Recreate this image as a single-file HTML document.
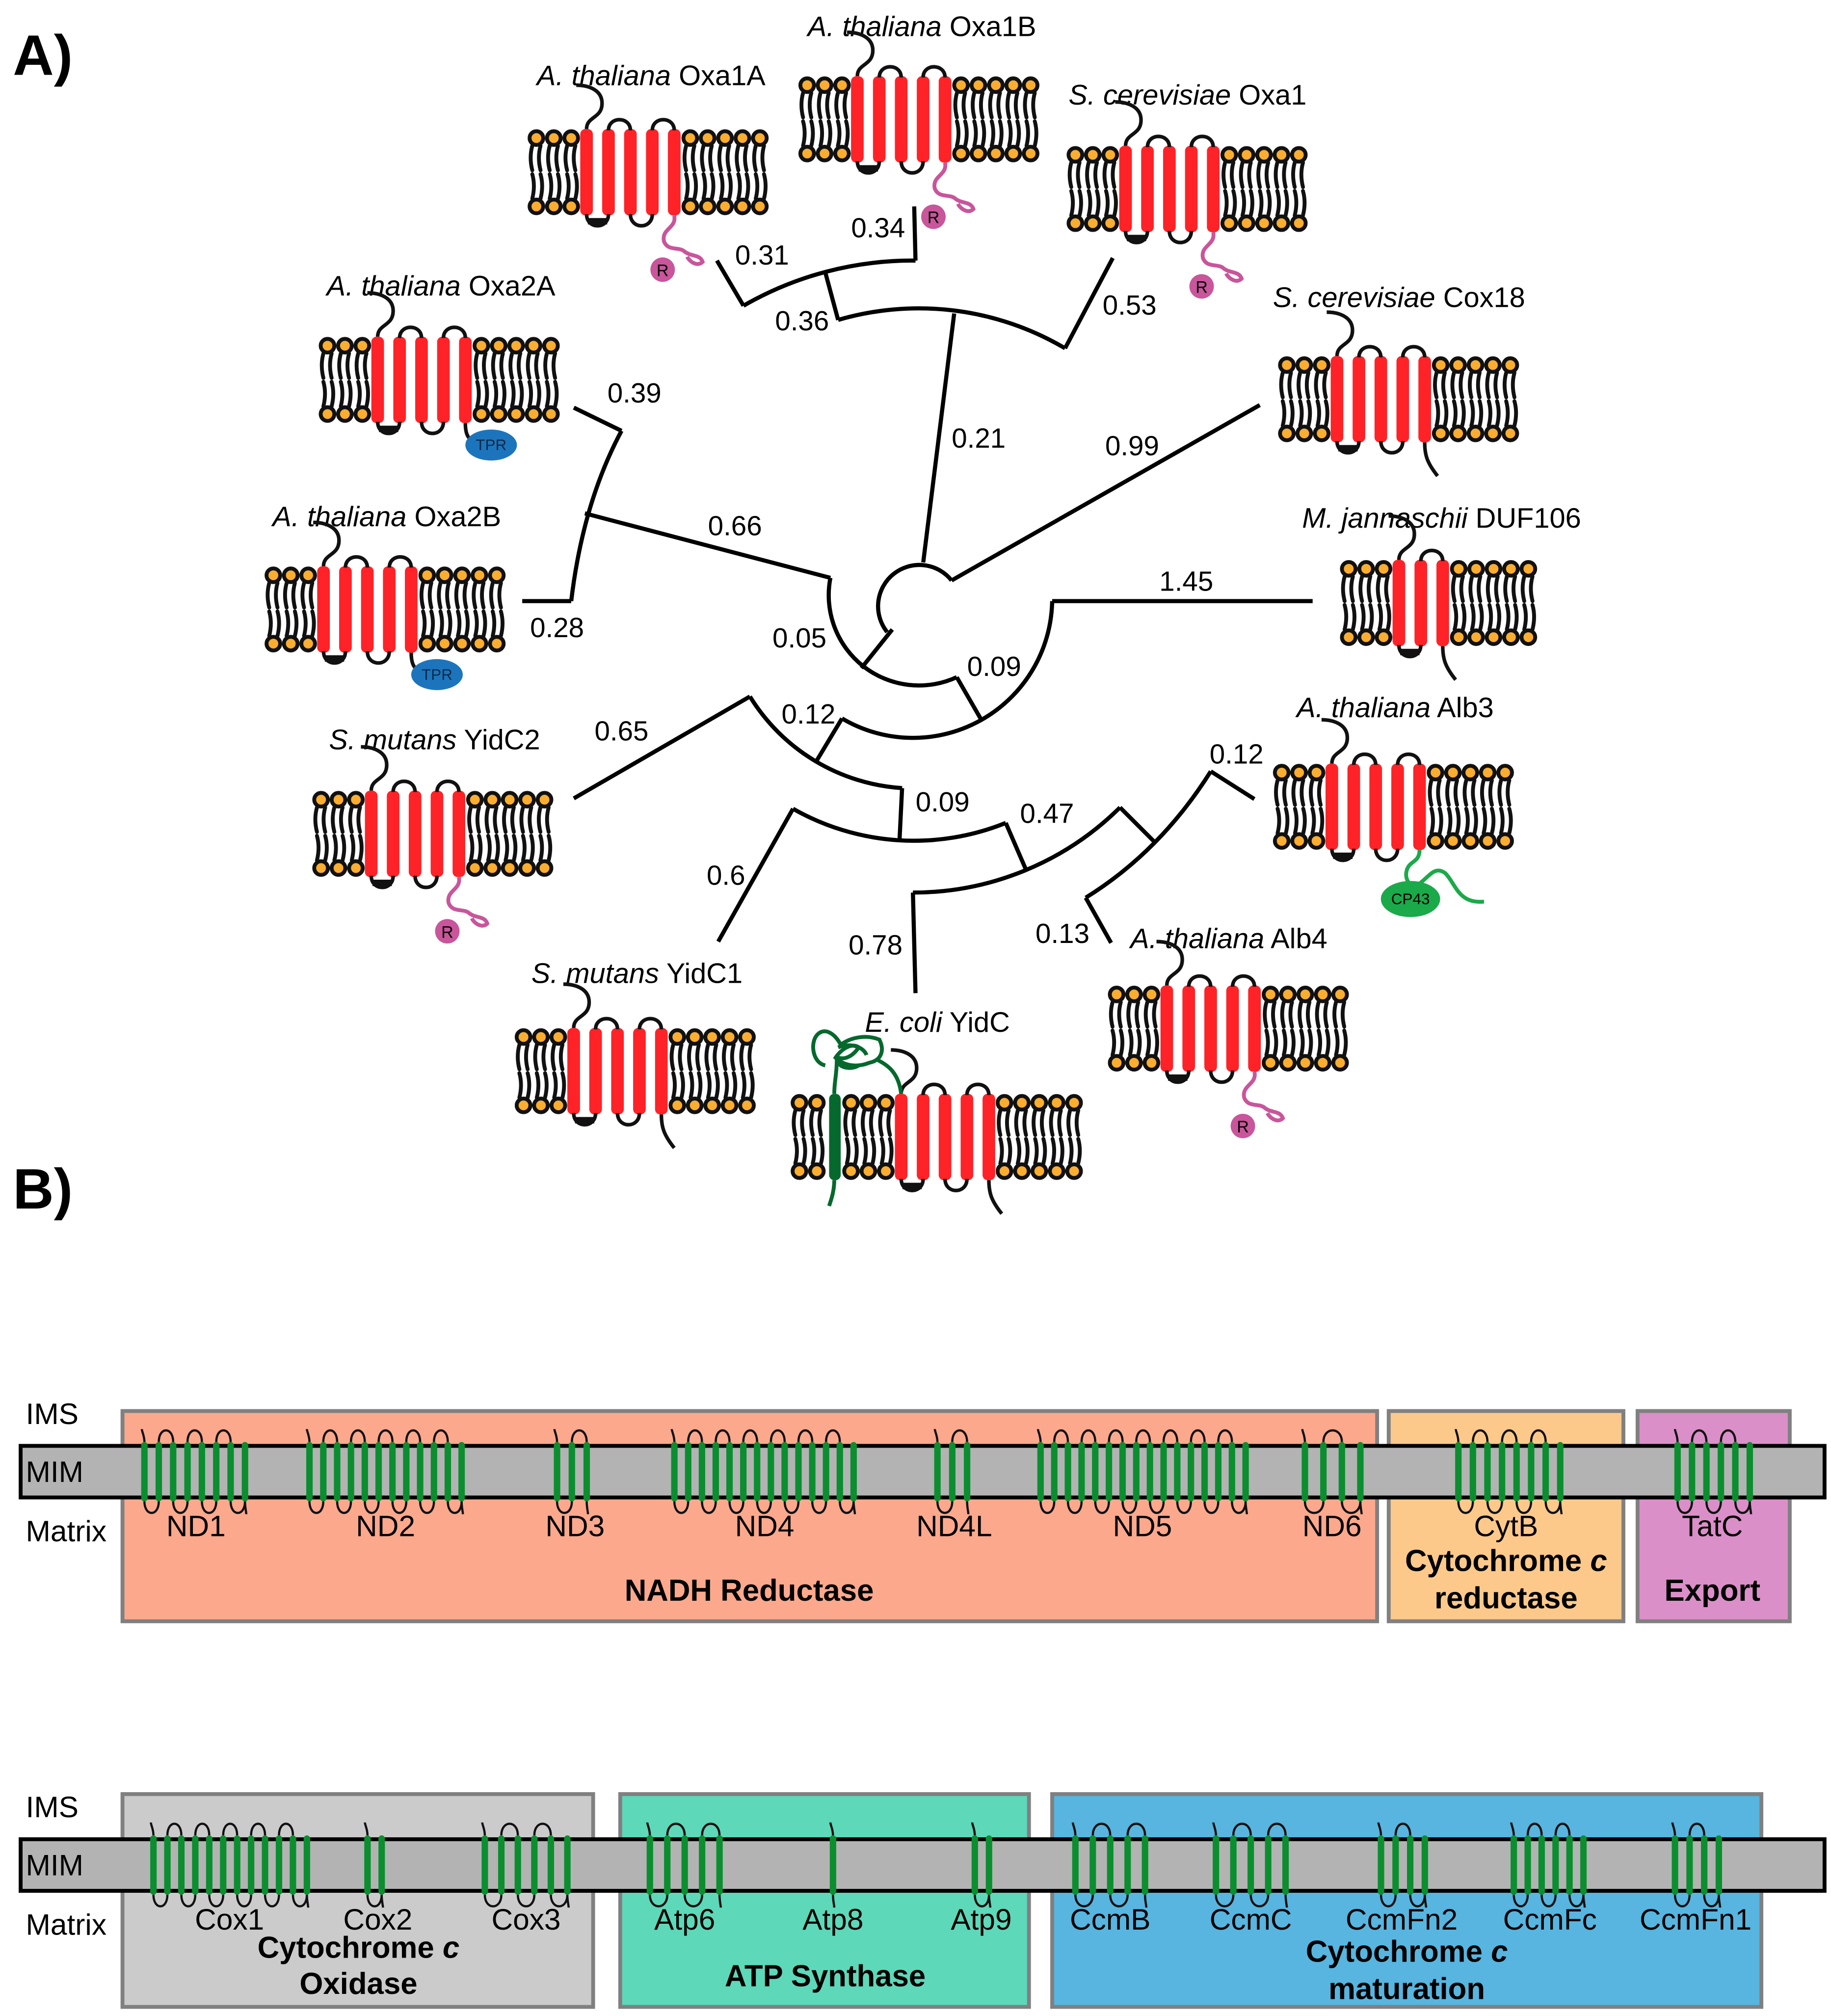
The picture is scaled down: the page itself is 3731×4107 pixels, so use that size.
<!DOCTYPE html>
<html><head><meta charset="utf-8">
<style>
html,body{margin:0;padding:0;background:#fff;}
svg{display:block;}
text{font-family:"Liberation Sans",Arial,sans-serif;}
</style></head>
<body>
<svg id="s" xmlns="http://www.w3.org/2000/svg" width="3731" height="4107" viewBox="0 0 1420 1563">
<rect x="0" y="0" width="1420" height="1563" fill="#fff"/>
<text x="10" y="58" font-size="44" font-weight="bold">A)</text>
<text x="10" y="937" font-size="44" font-weight="bold">B)</text>

<g fill="none" stroke="#000" stroke-width="3.2" stroke-linejoin="miter">
<path d="M688,490 A27,27 0 1 1 738,450"/>
<path d="M716,436 L740,243"/>
<path d="M738,450 L977,314"/>
<path d="M650,248 A223,223 0 0 1 826,270"/>
<path d="M650,248 L640,211"/>
<path d="M576.6,237 A262,262 0 0 1 710,202"/>
<path d="M576.6,237 L556,202"/>
<path d="M710,202 L709,160"/>
<path d="M826,270 L863,200"/>
<path d="M692,488 L668,518"/>
<path d="M644,448 A70,70 0 0 0 742,525"/>
<path d="M644,448 L453.6,398"/>
<path d="M482,334 Q452,390 443,466"/>
<path d="M482,334 L445,316"/>
<path d="M443,466 L405,466"/>
<path d="M742,525 L761,558"/>
<path d="M653,557 A108,108 0 0 0 816,466"/>
<path d="M816,466 L1018,466"/>
<path d="M653,557 L632.6,591"/>
<path d="M581.6,540 A150,150 0 0 0 699.6,611"/>
<path d="M581.6,540 L445,619"/>
<path d="M699.6,611 L697.6,651.5"/>
<path d="M615,627 A190,190 0 0 0 780,638"/>
<path d="M780,638 L796,675"/>
<path d="M615,627 L557,730"/>
<path d="M708,692 A228,228 0 0 0 868.6,626"/>
<path d="M708,692 L710,770"/>
<path d="M868.6,626 L896.3,653.7"/>
<path d="M842,696 Q900,660 939,598"/>
<path d="M939,598 L972.8,619.5"/>
<path d="M842,696 L861.7,731"/>
</g>
<g font-size="21.5" text-anchor="middle">
<text x="591" y="205">0.31</text><text x="681" y="184">0.34</text>
<text x="622" y="256">0.36</text><text x="876" y="244">0.53</text>
<text x="759" y="347">0.21</text><text x="878" y="353">0.99</text>
<text x="492" y="312">0.39</text><text x="570" y="415">0.66</text>
<text x="432" y="494">0.28</text><text x="620" y="502">0.05</text>
<text x="771" y="524">0.09</text><text x="920" y="458">1.45</text>
<text x="627" y="561">0.12</text><text x="482" y="574">0.65</text>
<text x="731" y="629">0.09</text><text x="812" y="638">0.47</text>
<text x="563" y="686">0.6</text><text x="679" y="740">0.78</text>
<text x="824" y="731">0.13</text><text x="959" y="592">0.12</text>
</g>
<g font-size="22" text-anchor="middle">
<text x="505" y="66"><tspan font-style="italic">A. thaliana</tspan> Oxa1A</text>
<text x="715" y="28"><tspan font-style="italic">A. thaliana</tspan> Oxa1B</text>
<text x="921" y="81"><tspan font-style="italic">S. cerevisiae</tspan> Oxa1</text>
<text x="1085" y="238"><tspan font-style="italic">S. cerevisiae</tspan> Cox18</text>
<text x="1118" y="409"><tspan font-style="italic">M. jannaschii</tspan> DUF106</text>
<text x="1082" y="556"><tspan font-style="italic">A. thaliana</tspan> Alb3</text>
<text x="953" y="735"><tspan font-style="italic">A. thaliana</tspan> Alb4</text>
<text x="727" y="800"><tspan font-style="italic">E. coli</tspan> YidC</text>
<text x="494" y="762"><tspan font-style="italic">S. mutans</tspan> YidC1</text>
<text x="337" y="581"><tspan font-style="italic">S. mutans</tspan> YidC2</text>
<text x="300" y="408"><tspan font-style="italic">A. thaliana</tspan> Oxa2B</text>
<text x="342" y="229"><tspan font-style="italic">A. thaliana</tspan> Oxa2A</text>
</g>
<g id="icons"></g>

<g stroke="#808080" stroke-width="3">
<rect x="95" y="1094" width="973" height="163" fill="#FCA88D"/>
<rect x="1077" y="1094" width="182" height="163" fill="#FDC98B"/>
<rect x="1270" y="1094" width="118" height="163" fill="#DB8FC8"/>
<rect x="95" y="1391" width="365" height="165" fill="#CBCBCB"/>
<rect x="481" y="1391" width="317" height="165" fill="#5DD8B8"/>
<rect x="816" y="1391" width="550" height="165" fill="#57B5DF"/>
</g>
<rect x="16" y="1121" width="1399" height="40" fill="#B3B3B3" stroke="#000" stroke-width="3"/>
<rect x="16" y="1426" width="1399" height="40" fill="#B3B3B3" stroke="#000" stroke-width="3"/>
<g id="bhel"></g>
<g font-size="23">
<text x="20" y="1104">IMS</text><text x="20" y="1149">MIM</text><text x="20" y="1195">Matrix</text>
<text x="20" y="1409">IMS</text><text x="20" y="1454">MIM</text><text x="20" y="1500">Matrix</text>
</g>
<g font-size="23" text-anchor="middle">
<text x="152" y="1191">ND1</text><text x="299" y="1191">ND2</text><text x="446" y="1191">ND3</text>
<text x="593" y="1191">ND4</text><text x="740" y="1191">ND4L</text><text x="886" y="1191">ND5</text>
<text x="1033" y="1191">ND6</text><text x="1168" y="1191">CytB</text><text x="1328" y="1191">TatC</text>
<text x="178" y="1496">Cox1</text><text x="293" y="1496">Cox2</text><text x="408" y="1496">Cox3</text>
<text x="531" y="1496">Atp6</text><text x="646" y="1496">Atp8</text><text x="761" y="1496">Atp9</text>
<text x="861" y="1496">CcmB</text><text x="970" y="1496">CcmC</text><text x="1087" y="1496">CcmFn2</text>
<text x="1202" y="1496">CcmFc</text><text x="1315" y="1496">CcmFn1</text>
</g>
<g font-size="23.5" font-weight="bold" text-anchor="middle">
<text x="581" y="1241">NADH Reductase</text>
<text x="1168" y="1218">Cytochrome <tspan font-style="italic">c</tspan></text>
<text x="1168" y="1247">reductase</text>
<text x="1328" y="1241">Export</text>
<text x="278" y="1518">Cytochrome <tspan font-style="italic">c</tspan></text>
<text x="278" y="1546">Oxidase</text>
<text x="640" y="1540">ATP Synthase</text>
<text x="1091" y="1521">Cytochrome <tspan font-style="italic">c</tspan></text>
<text x="1091" y="1550">maturation</text>
</g>
</svg>
<script>
var NS="http://www.w3.org/2000/svg";
function el(p,t,a,txt){var e=document.createElementNS(NS,t);for(var k in a)e.setAttribute(k,a[k]);if(txt!=null)e.textContent=txt;p.appendChild(e);return e;}
var G=document.getElementById("icons");
function lipids(cx0,n,y){
  for(var i=0;i<n;i++){var cx=cx0+13.5*i;
    var d="M"+(cx-3.2)+","+(y+6)+" q-2.5,9 0,19 M"+(cx+3.2)+","+(y+6)+" q-2.5,9 0,19 M"+(cx-3.2)+","+(y+28)+" q2.5,9 0,19 M"+(cx+3.2)+","+(y+28)+" q2.5,9 0,19";
    el(G,"path",{d:d,fill:"none",stroke:"#111","stroke-width":3,"stroke-linecap":"round"});
  }
  for(var i=0;i<n;i++){var cx=cx0+13.5*i;
    el(G,"circle",{cx:cx,cy:y,r:5.3,fill:"#FBAD2F",stroke:"#111","stroke-width":3});
    el(G,"circle",{cx:cx,cy:y+53,r:5.3,fill:"#FBAD2F",stroke:"#111","stroke-width":3});
  }
}
function helices(hs,n,y){
  var cs=[];
  for(var i=0;i<n;i++){var x=hs+17*i;cs.push(x+4.9);
    el(G,"rect",{x:x,y:y-7,width:9.8,height:67,rx:4,fill:"#FF2227"});}
  return cs;
}
function loops(cs,y){
  var s={fill:"none",stroke:"#111","stroke-width":2.8};
  el(G,"path",Object.assign({d:"M"+cs[0]+","+(y-7)+" c0,-10 12,-8 12,-20 c0,-10 -10,-14 -20,-14"},s));
  for(var i=1;i+1<cs.length;i+=2){
    el(G,"path",Object.assign({d:"M"+cs[i]+","+(y-6)+" C"+cs[i]+","+(y-17)+" "+cs[i+1]+","+(y-17)+" "+cs[i+1]+","+(y-6)},s));
  }
  for(var i=0;i+1<cs.length;i+=2){
    el(G,"path",Object.assign({d:"M"+cs[i]+","+(y+59)+" C"+cs[i]+","+(y+71)+" "+cs[i+1]+","+(y+71)+" "+cs[i+1]+","+(y+59)},s));
    if(i===0) el(G,"rect",{x:cs[0]+1,y:y+62,width:cs[1]-cs[0]-2,height:5,fill:"#111"});
  }
}
function icon(cx0,y,nL,nH,nR,tail){
  lipids(cx0,nL,y);
  var hs=cx0+13.5*(nL-1)+7;
  var cs=helices(hs,nH,y);
  var he=hs+17*(nH-1)+9.8;
  lipids(he+7.5,nR,y);
  loops(cs,y);
  var lx=cs[cs.length-1], by=y+60;
  if(tail==="R"){
    el(G,"path",{d:"M"+lx+","+by+" c2,10 -10,10 -8,20 c3,8 12,4 16,8 c5,4 12,2 14,8 c-4,4 -10,0 -12,-4",fill:"none",stroke:"#C9559B","stroke-width":3});
    el(G,"circle",{cx:lx-9,cy:by+42,r:9.5,fill:"#C9559B"});
    el(G,"text",{x:lx-9,y:by+47,"font-size":13,"text-anchor":"middle"},"R");
  } else if(tail==="TPR"){
    el(G,"path",{d:"M"+lx+","+by+" c0,12 4,14 12,15",fill:"none",stroke:"#111","stroke-width":2.8});
    el(G,"ellipse",{cx:lx+20,cy:by+17,rx:20,ry:12,fill:"#1C75BC"});
    el(G,"text",{x:lx+20,y:by+21,"font-size":12,"text-anchor":"middle",fill:"#0b2a4a"},"TPR");
  } else if(tail==="B"){
    el(G,"path",{d:"M"+lx+","+by+" c0,10 2,16 10,26",fill:"none",stroke:"#111","stroke-width":2.8});
  } else if(tail==="CP"){
    el(G,"path",{d:"M"+lx+","+by+" c0,10 -8,8 -10,16 c-2,8 4,14 10,10 c8,-6 12,-14 20,-8 c8,8 10,24 30,22",fill:"none",stroke:"#1AAA4A","stroke-width":3});
    el(G,"ellipse",{cx:lx-7,cy:by+38,rx:23,ry:14,fill:"#1AAA4A"});
    el(G,"text",{x:lx-7,y:by+42,"font-size":12,"text-anchor":"middle"},"CP43");
  }
  return cs;
}
icon(416,107,3,5,5,"R");
icon(626,66,3,5,5,"R");
icon(834,120,3,5,5,"R");
icon(998,283,3,5,5,"B");
icon(1046,441,3,3,5,"B");
icon(994,599,3,5,5,"CP");
icon(866,771,3,5,5,"R");
icon(406,804,3,5,5,"B");
icon(249,620,3,5,5,"R");
icon(212,446,3,5,5,"TPR");
icon(254,268,3,5,5,"TPR");
(function(){
  var y=855;
  lipids(620,2,y);
  el(G,"rect",{x:643,y:y-7,width:9,height:67,rx:4,fill:"#05692D"});
  lipids(660,3,y);
  var cs=helices(694,5,y);
  lipids(779,5,y);
  loops(cs,y);
  el(G,"path",{d:"M647,"+(y-7)+" c0,-10 2,-14 2,-28 M647,"+(y+60)+" c0,8 -2,14 -4,20",fill:"none",stroke:"#05692D","stroke-width":3});
  el(G,"path",{d:"M"+cs[0]+","+(y-7)+" c-2,-16 -10,-22 -18,-26",fill:"none",stroke:"#05692D","stroke-width":3});
  el(G,"path",{d:"M640,826 c-10,-2 -12,-18 -6,-24 c6,-6 14,0 18,8 c8,-6 20,-8 30,-4 c4,8 2,16 -8,18 c-10,4 -20,2 -26,-4 c4,-6 12,-12 18,-8 c-4,6 -10,10 -16,8 c-2,8 10,10 16,6 M650,812 c10,-4 20,0 22,6",fill:"none",stroke:"#05692D","stroke-width":3});
  el(G,"path",{d:"M"+cs[4]+","+(y+60)+" c0,10 2,16 10,26",fill:"none",stroke:"#111","stroke-width":2.8});
})();
var B=document.getElementById("bhel");
function grp(x1,x2,n,row){
  var yt=row?1423:1118, yb=row?1469:1164;
  var xs=[];for(var i=0;i<n;i++)xs.push(n===1?x1:x1+(x2-x1)*i/(n-1));
  var d="";
  for(var i=0;i+1<n;i++){var a=xs[i],b=xs[i+1];
    if(i%2===0) d+="M"+a+","+yb+" C"+a+","+(yb+12)+" "+b+","+(yb+12)+" "+b+","+yb+" ";
    else d+="M"+a+","+yt+" C"+a+","+(yt-12)+" "+b+","+(yt-12)+" "+b+","+yt+" ";
  }
  d+="M"+xs[0]+","+yt+" c0,-5 -2,-8 -2,-10 ";
  d+="M"+xs[n-1]+","+yb+" c0,5 1,8 1,10";
  el(B,"path",{d:d,fill:"none",stroke:"#111","stroke-width":1.7});
  for(var i=0;i<n;i++) el(B,"rect",{x:xs[i]-2.5,y:yt,width:5,height:yb-yt,rx:2.5,fill:"#0B8E2F"});
}
grp(112,190,8,0);grp(240,358,12,0);grp(432,455,3,0);grp(523,662,14,0);
grp(727,750,3,0);grp(807,966,16,0);grp(1012,1055,4,0);grp(1131,1210,8,0);grp(1301,1357,6,0);
grp(119,238,12,1);grp(285,296,2,1);grp(376,440,6,1);grp(504,558,5,1);grp(646,646,1,1);
grp(756,767,2,1);grp(834,888,5,1);grp(943,997,5,1);grp(1071,1105,4,1);grp(1174,1228,6,1);grp(1299,1333,4,1);
</script>
</body></html>
